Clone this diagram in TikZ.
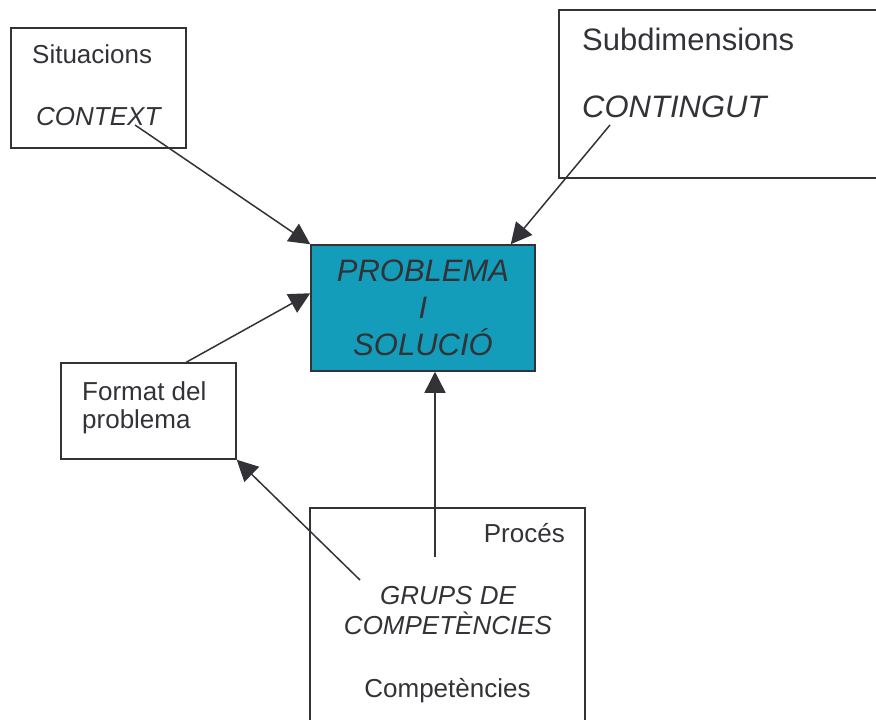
\documentclass[tikz,border=0pt]{standalone}
\usepackage{fontspec}
\setmainfont{Liberation Sans}
\usepackage{xcolor}
\usetikzlibrary{arrows.meta,positioning,calc}

\definecolor{ink}{RGB}{51,51,55}
\definecolor{tealbox}{RGB}{19,157,186}

\begin{document}
\begin{tikzpicture}[
    x=1pt, y=-1pt,
    box/.style={rectangle, draw=ink, line width=1.5pt, inner sep=0pt},
    lbl/.style={inner sep=0pt, text=ink},
    small/.style={font=\fontsize{26}{28}\selectfont},
    smallit/.style={font=\fontsize{26}{30}\selectfont\itshape},
    big/.style={font=\fontsize{31}{37}\selectfont},
    bigit/.style={font=\fontsize{31}{37}\selectfont\itshape},
    arrow/.style={-{Triangle[length=21pt,width=21pt]}, draw=ink, line width=1.5pt}
]
    \useasboundingbox (0,0) rectangle (876,720);
    \clip (0,0) rectangle (876,720);

    % boxes
    \node[box, minimum width=175pt, minimum height=120pt] (sit) at (98.5,88) {};
    \node[box, minimum width=341pt, minimum height=168pt] (sub) at (729.5,94) {};
    \node[box, fill=tealbox, minimum width=224pt, minimum height=126pt,
          bigit, text=ink, align=center] (prob) at (423,308) {PROBLEMA\\I\\SOLUCIÓ};
    \node[box, minimum width=175pt, minimum height=96pt] (fmt) at (148.5,411) {};
    \node[box, minimum width=275pt, minimum height=232pt] (proc) at (447.5,624) {};

    % texts
    \node[lbl, small, anchor=base west] (situ) at (32,63) {Situacions};
    \node[lbl, smallit, anchor=base west] (ctx) at (36,125) {CONTEXT};
    \node[lbl, big, anchor=base west] (subd) at (582,50) {Subdimensions};
    \node[lbl, bigit, anchor=base west] (cnt) at (582,117) {CONTINGUT};
    \node[lbl, small, anchor=west, align=left] (fmttext) at (82,408) {Format del\\problema};
    \node[lbl, small, anchor=base east] (proces) at (565,542) {Procés};
    \node[lbl, smallit, align=center] (grups) at (448,611) {GRUPS DE\\COMPETÈNCIES};
    \node[lbl, small, anchor=base] (comp) at (447.5,697) {Competències};

    % connectors
    \coordinate (ctxtail) at (135,125);
    \coordinate (cnttail) at (610,125);
    \coordinate (grptail) at (435,557);
    \coordinate (fmttail) at (360,580);

    \draw[arrow] (ctxtail) -- (prob.north west);
    \draw[arrow] (cnttail) -- ($(prob.north east)+(-25,0)$);
    \draw[arrow] ($(fmt.north west)+(126,0)$) -- ($(prob.north west)+(0,49)$);
    \draw[arrow] (grptail) -- (grptail |- prob.south);
    \draw[arrow] (fmttail) -- (fmt.south east);
\end{tikzpicture}
\end{document}
